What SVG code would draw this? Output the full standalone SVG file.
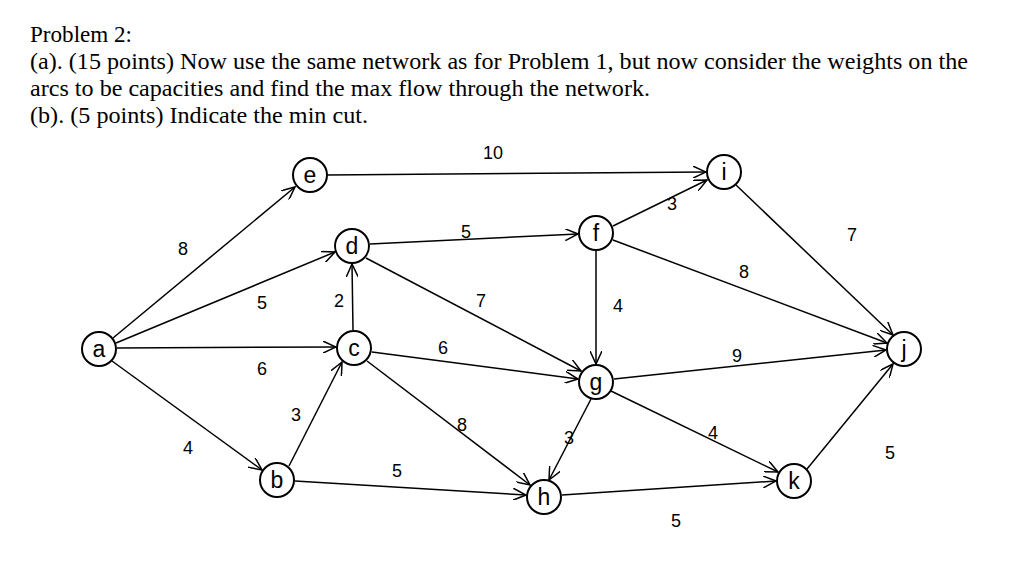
<svg xmlns="http://www.w3.org/2000/svg" width="1024" height="564" viewBox="0 0 1024 564">
<style>
.t{font-family:"Liberation Serif",serif;font-size:22.5px;fill:#000}
.n circle{fill:#fff;stroke:#000;stroke-width:2}
.n text{font-family:"Liberation Sans",sans-serif;font-size:23px;text-anchor:middle;fill:#000}
.w{font-family:"Liberation Sans",sans-serif;font-size:18px;text-anchor:middle;fill:#000}
#edges line{stroke:#000;stroke-width:1.5;marker-end:url(#ar)}
</style>
<defs><marker id="ar" markerWidth="14" markerHeight="12" refX="13" refY="6" orient="auto" markerUnits="userSpaceOnUse"><path d="M0,0 L13,6 L0,12" fill="none" stroke="#000" stroke-width="1.5"/></marker></defs>
<rect width="1024" height="564" fill="#fff"/>
<text class="t" x="30" y="42" textLength="102" lengthAdjust="spacingAndGlyphs">Problem 2:</text>
<text class="t" x="30" y="69" textLength="938" lengthAdjust="spacingAndGlyphs">(a). (15 points) Now use the same network as for Problem 1, but now consider the weights on the</text>
<text class="t" x="30" y="96" textLength="620" lengthAdjust="spacingAndGlyphs">arcs to be capacities and find the max flow through the network.</text>
<text class="t" x="30" y="123" textLength="338" lengthAdjust="spacingAndGlyphs">(b). (5 points) Indicate the min cut.</text>
<g id="edges">
<line x1="327" y1="175" x2="706" y2="172"/>
<line x1="113" y1="338" x2="295" y2="187"/>
<line x1="116" y1="343" x2="335" y2="252"/>
<line x1="117" y1="348" x2="336" y2="347"/>
<line x1="112" y1="361" x2="262" y2="470"/>
<line x1="353" y1="330" x2="352" y2="264"/>
<line x1="289" y1="466" x2="342" y2="362"/>
<line x1="370" y1="244" x2="578" y2="234"/>
<line x1="366" y1="258" x2="581" y2="371"/>
<line x1="372" y1="352" x2="578" y2="379"/>
<line x1="367" y1="361" x2="530" y2="485"/>
<line x1="295" y1="481" x2="526" y2="495"/>
<line x1="613" y1="226" x2="707" y2="180"/>
<line x1="613" y1="240" x2="887" y2="343"/>
<line x1="596" y1="251" x2="596" y2="364"/>
<line x1="591" y1="399" x2="549" y2="480"/>
<line x1="614" y1="379" x2="886" y2="350"/>
<line x1="611" y1="391" x2="778" y2="472"/>
<line x1="562" y1="495" x2="776" y2="481"/>
<line x1="736" y1="185" x2="893" y2="335"/>
<line x1="807" y1="469" x2="893" y2="364"/>
</g>
<g id="labels">
<text class="w" x="493" y="159">10</text>
<text class="w" x="183" y="255">8</text>
<text class="w" x="262" y="309">5</text>
<text class="w" x="262" y="375">6</text>
<text class="w" x="188" y="454">4</text>
<text class="w" x="339" y="307">2</text>
<text class="w" x="296" y="421">3</text>
<text class="w" x="466" y="238">5</text>
<text class="w" x="481" y="307">7</text>
<text class="w" x="443" y="354">6</text>
<text class="w" x="462" y="431">8</text>
<text class="w" x="397" y="477">5</text>
<text class="w" x="672" y="210">3</text>
<text class="w" x="744" y="278">8</text>
<text class="w" x="618" y="312">4</text>
<text class="w" x="569" y="444">3</text>
<text class="w" x="737" y="362">9</text>
<text class="w" x="713" y="439">4</text>
<text class="w" x="676" y="527">5</text>
<text class="w" x="852" y="241">7</text>
<text class="w" x="890" y="459">5</text>
</g>
<g id="a" class="n"><circle cx="99" cy="349" r="17"/><text x="99" y="357">a</text></g>
<g id="e" class="n"><circle cx="310" cy="175" r="17"/><text x="310" y="183">e</text></g>
<g id="d" class="n"><circle cx="352" cy="246" r="17"/><text x="352" y="254">d</text></g>
<g id="c" class="n"><circle cx="354" cy="348" r="17"/><text x="354" y="356">c</text></g>
<g id="b" class="n"><circle cx="277" cy="480" r="17"/><text x="277" y="488">b</text></g>
<g id="f" class="n"><circle cx="596" cy="233" r="17"/><text x="596" y="241">f</text></g>
<g id="i" class="n"><circle cx="724" cy="172" r="17"/><text x="724" y="180">i</text></g>
<g id="g" class="n"><circle cx="596" cy="382" r="17"/><text x="596" y="390">g</text></g>
<g id="h" class="n"><circle cx="544" cy="497" r="17"/><text x="544" y="505">h</text></g>
<g id="k" class="n"><circle cx="794" cy="481" r="17"/><text x="794" y="489">k</text></g>
<g id="j" class="n"><circle cx="904" cy="349" r="17"/><text x="904" y="357">j</text></g>
</svg>
